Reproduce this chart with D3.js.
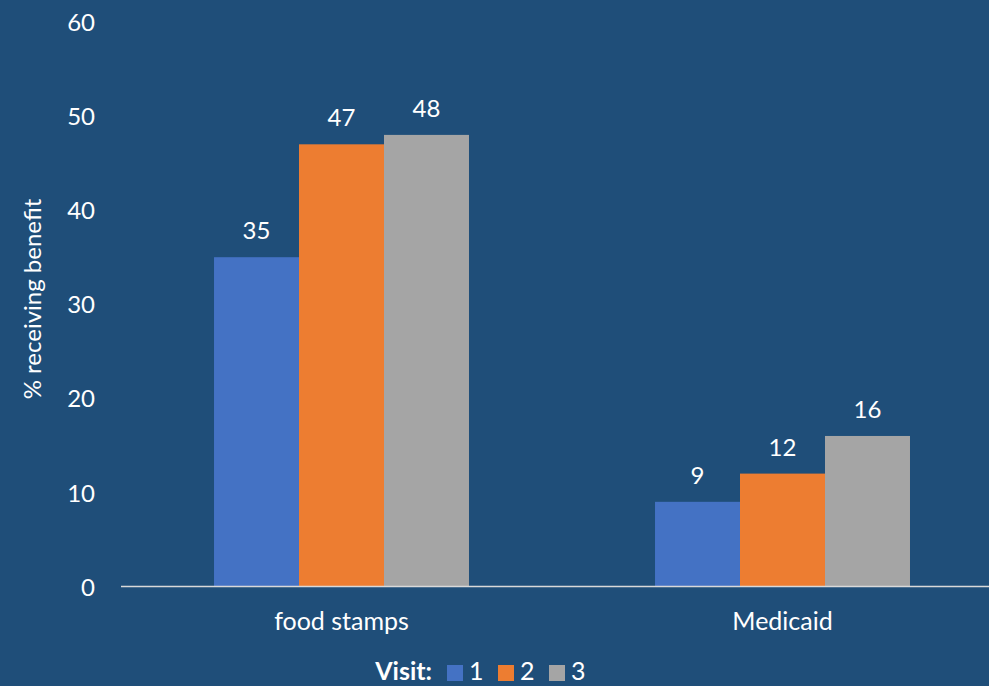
<!DOCTYPE html>
<html>
<head>
<meta charset="utf-8">
<script src="https://cdn.jsdelivr.net/npm/d3@7"></script>
<style>
  html, body { margin: 0; padding: 0; background: #1F4E79; }
  svg { display: block; }
  text { font-family: Lato, "Open Sans", sans-serif; fill: #ffffff; }
</style>
</head>
<body>
<svg id="chart" width="989" height="686"></svg>
<script>
// Share of respondents receiving each benefit, by visit
const categories = ["food stamps", "Medicaid"];
const visits = ["1", "2", "3"];
const visit1 = [35, 9];
const visit2 = [47, 12];
const visit3 = [48, 16];
const yTicks = [0, 10, 20, 30, 40, 50, 60];
const colors = ["#4472C4", "#ED7D31", "#A5A5A5"];

const seriesValues = [visit1, visit2, visit3];
const rows = categories.map((c, i) => ({
  category: c,
  values: visits.map((v, j) => ({ visit: v, value: seriesValues[j][i] }))
}));

const svg = d3.select("#chart");
const W = 989, H = 686;
const plot = { left: 121, right: 1003, top: 22, bottom: 586.5 };

const gap = 0.4218;
const x0 = d3.scaleBand()
  .domain(categories)
  .range([plot.left, plot.right])
  .paddingInner(gap)
  .paddingOuter(gap / 2);
const x1 = d3.scaleBand()
  .domain(visits)
  .range([0, x0.bandwidth()]);
const y = d3.scaleLinear().domain([0, 60]).range([plot.bottom, plot.top]);
const color = d3.scaleOrdinal().domain(visits).range(colors);

// Y axis: labels only
const yAxis = d3.axisLeft(y).tickValues(yTicks).tickSize(0).tickPadding(0);
const gy = svg.append("g")
  .attr("transform", "translate(95,0)")
  .call(yAxis);
gy.select(".domain").remove();
gy.selectAll("text")
  .attr("fill", "#ffffff")
  .style("font-family", "Lato, 'Open Sans', sans-serif")
  .style("font-size", "24px")
  .attr("dy", "0.36em");

// Y axis title
svg.append("text")
  .attr("transform", `translate(41,${(197 + 401) / 2}) rotate(-90)`)
  .attr("text-anchor", "middle")
  .style("font-size", "24px")
  .text("% receiving benefit");

// Bars
const groups = svg.append("g").selectAll("g")
  .data(rows)
  .join("g")
  .attr("transform", d => `translate(${x0(d.category)},0)`);

groups.selectAll("rect")
  .data(d => d.values)
  .join("rect")
  .attr("x", d => x1(d.visit))
  .attr("width", x1.bandwidth())
  .attr("y", d => y(d.value))
  .attr("height", d => y(0) - y(d.value))
  .attr("fill", d => color(d.visit));

// Value labels
groups.selectAll("text.val")
  .data(d => d.values)
  .join("text")
  .attr("class", "val")
  .attr("x", d => x1(d.visit) + x1.bandwidth() / 2)
  .attr("y", d => y(d.value) - 18)
  .attr("text-anchor", "middle")
  .style("font-size", "24px")
  .text(d => d3.format("d")(d.value));

// X axis baseline and category labels
const xAxis = d3.axisBottom(x0).tickSize(0).tickPadding(0);
const gx = svg.append("g")
  .attr("transform", `translate(0,${y(0)})`)
  .call(xAxis);
gx.select(".domain")
  .attr("stroke", "#D9D9D9")
  .attr("stroke-width", 1.5)
  .attr("d", `M${plot.left},0H${W}`);
gx.selectAll(".tick text")
  .attr("fill", "#ffffff")
  .attr("dy", "0")
  .attr("y", 43)
  .style("font-family", "Lato, 'Open Sans', sans-serif")
  .style("font-size", "25px");

// Legend
const legend = svg.append("g").attr("transform", "translate(0,680)");
legend.append("text")
  .attr("x", 432)
  .attr("y", 0)
  .attr("text-anchor", "end")
  .style("font-size", "25px")
  .style("font-weight", "bold")
  .text("Visit:");
const legendX = [447, 498, 549];
const items = legend.selectAll("g.item")
  .data(visits)
  .join("g")
  .attr("class", "item")
  .attr("transform", (d, i) => `translate(${legendX[i]},0)`);
items.append("rect")
  .attr("x", 0)
  .attr("y", -15)
  .attr("width", 16)
  .attr("height", 16)
  .attr("fill", d => color(d));
items.append("text")
  .attr("x", 22)
  .attr("y", 0)
  .style("font-size", "25px")
  .text(d => d);
</script>
</body>
</html>
